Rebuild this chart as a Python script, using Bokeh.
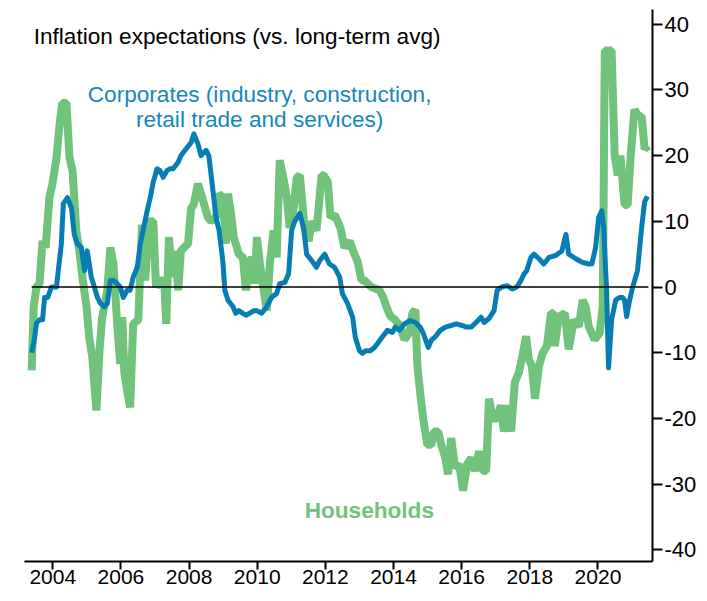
from bokeh.plotting import figure
from bokeh.models import Range1d, FixedTicker, Label, ColumnDataSource, PrintfTickFormatter
from bokeh.embed import file_html
from bokeh.resources import INLINE

# ---- data ----
hh_year = [2003.38, 2003.44, 2003.52, 2003.61, 2003.70, 2003.79, 2003.90, 2003.99, 2004.11, 2004.20,
           2004.28, 2004.40, 2004.49, 2004.58, 2004.69, 2004.78, 2004.87, 2004.99, 2005.07, 2005.16,
           2005.28, 2005.37, 2005.45, 2005.60, 2005.69, 2005.78, 2005.89, 2005.98, 2006.04, 2006.10,
           2006.18, 2006.27, 2006.36, 2006.51, 2006.62, 2006.71, 2006.83, 2006.95, 2007.03, 2007.15,
           2007.27, 2007.33, 2007.41, 2007.50, 2007.59, 2007.68, 2007.76, 2007.85, 2007.97, 2008.06,
           2008.14, 2008.26, 2008.35, 2008.44, 2008.55, 2008.64, 2008.79, 2008.88, 2008.99, 2009.08,
           2009.14, 2009.23, 2009.31, 2009.46, 2009.58, 2009.67, 2009.75, 2009.84, 2009.93, 2009.99,
           2010.08, 2010.19, 2010.28, 2010.37, 2010.48, 2010.57, 2010.66, 2010.78, 2010.87, 2010.95,
           2011.07, 2011.16, 2011.25, 2011.39, 2011.51, 2011.60, 2011.74, 2011.89, 2011.95, 2012.07,
           2012.15, 2012.27, 2012.36, 2012.44, 2012.56, 2012.71, 2012.85, 2012.94, 2013.06, 2013.15,
           2013.35, 2013.59, 2013.70, 2013.79, 2013.91, 2014.05, 2014.20, 2014.32, 2014.46, 2014.55,
           2014.64, 2014.70, 2014.78, 2014.87, 2014.99, 2015.11, 2015.19, 2015.31, 2015.40, 2015.52,
           2015.60, 2015.69, 2015.81, 2015.93, 2016.04, 2016.16, 2016.28, 2016.39, 2016.51, 2016.63,
           2016.72, 2016.80, 2016.92, 2017.04, 2017.15, 2017.24, 2017.36, 2017.45, 2017.56, 2017.68,
           2017.80, 2017.89, 2017.97, 2018.06, 2018.15, 2018.27, 2018.38, 2018.50, 2018.62, 2018.70,
           2018.73, 2018.85, 2019.03, 2019.14, 2019.29, 2019.44, 2019.55, 2019.64, 2019.73, 2019.90,
           2020.05, 2020.14, 2020.20, 2020.40, 2020.49, 2020.58, 2020.66, 2020.78, 2020.87, 2020.96,
           2021.07, 2021.19, 2021.28, 2021.37, 2021.48]
hh_val = [-12.7, -3, 0, 0.5, 7, 6, 13.6, 15.7, 19.7, 24.8,
          28, 28, 19.7, 17.7, 8.6, 5.5, 1.5, -3, -7.7, -10.7,
          -18.8, -9.7, -4.6, -0.5, 6, 3.5, -5.6, -11.7, -4.6, -13,
          -15.7, -18.3, -5.6, -5, 9.5, 1, 10, 10, 0, 1,
          1, -5.6, 7.6, 1.5, 5.5, -0.5, 5.5, 6, 6.6, 12,
          12.6, 15.7, 14.2, 12.6, 10.6, 10, 10.6, 14.2, 13.6, 6.6,
          14.2, 11.2, 7.6, 5, 4.5, -0.5, 3.5, 4.5, 0.5, 7.6,
          3.5, -0.5, -3.6, 3.5, 8.6, 4.5, 19.3, 16.2, 13.6, 9,
          12, 16.7, 17, 9, 7, 10, 8.6, 17, 17, 16,
          10.6, 11, 10, 9, 6, 7, 5, 4, 1, 1,
          0, -0.5, -1.6, -3, -4.5, -5, -6, -8, -7, -4,
          -3.5, -12, -16, -20, -24, -24, -22, -22, -24, -26,
          -28.5, -23, -27.5, -27, -31, -27, -26, -28, -25, -28,
          -28, -17, -20, -20, -18, -22, -18, -22, -14.5, -13,
          -10, -7.5, -11, -12, -17, -12, -10, -9, -4, -4,
          -9, -4.5, -4, -9.5, -5, -6, -2, -3, -6, -8,
          -7, -3, 36, 36, 20, 17, 20, 12.5, 12.5, 20,
          27, 26, 26, 21, 21.5]

corp_year = [2003.38, 2003.46, 2003.52, 2003.61, 2003.70, 2003.76, 2003.85, 2003.96, 2004.11, 2004.14,
             2004.25, 2004.31, 2004.43, 2004.55, 2004.63, 2004.72, 2004.84, 2004.93, 2005.01, 2005.13,
             2005.22, 2005.31, 2005.40, 2005.51, 2005.60, 2005.69, 2005.78, 2005.89, 2005.98, 2006.07,
             2006.18, 2006.27, 2006.36, 2006.48, 2006.57, 2006.65, 2006.77, 2006.86, 2006.95, 2007.06,
             2007.15, 2007.24, 2007.35, 2007.44, 2007.53, 2007.68, 2007.76, 2007.91, 2008.06, 2008.14,
             2008.26, 2008.35, 2008.50, 2008.58, 2008.70, 2008.79, 2008.88, 2008.99, 2009.05, 2009.14,
             2009.29, 2009.37, 2009.46, 2009.58, 2009.67, 2009.81, 2009.90, 2009.99, 2010.13, 2010.28,
             2010.43, 2010.57, 2010.66, 2010.81, 2010.92, 2011.01, 2011.10, 2011.25, 2011.36, 2011.45,
             2011.60, 2011.74, 2011.83, 2011.98, 2012.12, 2012.27, 2012.42, 2012.50, 2012.65, 2012.80,
             2012.88, 2013.00, 2013.09, 2013.18, 2013.32, 2013.44, 2013.53, 2013.67, 2013.82, 2013.97,
             2014.05, 2014.17, 2014.32, 2014.49, 2014.64, 2014.78, 2014.87, 2015.02, 2015.11, 2015.22,
             2015.37, 2015.52, 2015.66, 2015.84, 2016.04, 2016.13, 2016.28, 2016.42, 2016.57, 2016.66,
             2016.80, 2016.95, 2017.04, 2017.18, 2017.33, 2017.48, 2017.62, 2017.74, 2017.83, 2017.91,
             2018.03, 2018.12, 2018.27, 2018.41, 2018.56, 2018.76, 2018.94, 2019.06, 2019.14, 2019.35,
             2019.52, 2019.73, 2019.82, 2019.93, 2020.02, 2020.11, 2020.17, 2020.22, 2020.25, 2020.31,
             2020.40, 2020.52, 2020.63, 2020.72, 2020.78, 2020.84, 2020.93, 2021.02, 2021.16, 2021.28,
             2021.37, 2021.45]
corp_val = [-10, -8, -5.5, -5, -5, -1.6, -1.6, 0, 0, 1.5,
            6.5, 12.7, 13.6, 12, 8, 6.6, 6, 2.5, 5.5, 1.5,
            0, -1.6, -2.5, -3, -2.5, 1, 1, 0.5, 0, -1.6,
            -0.5, -0.5, 1.5, 3, 6.6, 8.6, 11.6, 13.6, 16, 18,
            17.7, 16.7, 17.7, 18, 18, 19, 20, 21, 22, 23.3,
            21.8, 20, 20.8, 20, 14.7, 10.6, 8.6, 4, -0.5, -2,
            -3, -4, -3.6, -4, -4.3, -3.9, -3.6, -3.6, -4, -3,
            -1.5, -1, 0.5, 0.7, 2, 8.6, 10, 11.2, 9, 5,
            4, 3, 4, 5, 3.5, 3, 1.5, -1, -2.5, -4.6,
            -7.7, -9.7, -10.1, -9.7, -9.7, -9.2, -8.6, -7.6, -6.6, -6.9,
            -6.1, -6.6, -5.6, -5.1, -5.4, -6.1, -7, -9.2, -8.1, -7.6,
            -6.6, -6.1, -5.9, -5.6, -5.9, -6.1, -6.1, -5.4, -4.6, -5.4,
            -4.8, -3.6, -0.5, 0, 0.2, -0.3, 0, 1, 2, 2.5,
            4.5, 5, 4.3, 3.5, 4.5, 4.8, 5.5, 8, 5, 4.3,
            3.8, 3.5, 3.5, 6, 10.6, 11.6, 9, 3, 0, -12.3,
            -5, -2, -1.6, -1.6, -2, -4.5, -2, 0, 2.5, 9,
            13, 13.8]

x_ticks = [2004, 2006, 2008, 2010, 2012, 2014, 2016, 2018, 2020]
y_ticks = [-40, -30, -20, -10, 0, 10, 20, 30, 40]

title_text = "Inflation expectations (vs. long-term avg)"
corp_text = ["Corporates (industry, construction,", "retail trade and services)"]
hh_text = "Households"

GREEN = "#71C27A"
BLUE = "#077DB3"
FONT = "Liberation Sans"

p = figure(width=699, height=593, output_backend="svg", toolbar_location=None,
           x_range=Range1d(2003.17, 2021.60), y_range=Range1d(-41.78, 42.24),
           y_axis_location="right", min_border_left=24, min_border_top=9,
           min_border_right=45, min_border_bottom=32)
p.outline_line_color = None
p.grid.visible = False
p.background_fill_color = "white"
p.border_fill_color = "white"

hh_src = ColumnDataSource(dict(x=hh_year, y=hh_val))
corp_src = ColumnDataSource(dict(x=corp_year, y=corp_val))
p.line("x", "y", source=hh_src, line_color=GREEN, line_width=8, line_join="bevel")
p.line("x", "y", source=corp_src, line_color=BLUE, line_width=5, line_join="round")
p.segment(x0=[hh_year[0]], y0=[0], x1=[hh_year[-1]], y1=[0], line_color="black", line_width=1.6)

for ax in (p.xaxis[0], p.yaxis[0]):
    ax.axis_line_width = 2
    ax.major_tick_line_width = 2
    ax.major_tick_in = 0
    ax.minor_tick_out = 0
    ax.minor_tick_in = 0
    ax.major_label_text_font = FONT
    ax.major_label_text_color = "black"
    ax.axis_line_color = "black"
    ax.major_tick_line_color = "black"

p.xaxis.major_tick_out = 8
p.yaxis.major_tick_out = 10
p.xaxis.major_label_text_font_size = "21px"
p.yaxis.major_label_text_font_size = "22px"
p.xaxis.ticker = FixedTicker(ticks=x_ticks)
p.yaxis.ticker = FixedTicker(ticks=y_ticks)
p.yaxis.formatter = PrintfTickFormatter(format="%d")
p.xaxis.major_label_standoff = 0
p.yaxis.major_label_standoff = 2

p.add_layout(Label(x=2003.44, y=38.1, text=title_text, text_font=FONT, text_font_size="22.6px",
                   text_color="black", text_align="left", text_baseline="alphabetic"))
p.add_layout(Label(x=2010.07, y=29.3, text=corp_text[0], text_font=FONT, text_font_size="22.6px",
                   text_color="#1487BE", text_align="center", text_baseline="alphabetic"))
p.add_layout(Label(x=2010.07, y=25.5, text=corp_text[1], text_font=FONT, text_font_size="22.6px",
                   text_color="#1487BE", text_align="center", text_baseline="alphabetic"))
p.add_layout(Label(x=2013.29, y=-34.0, text=hh_text, text_font=FONT, text_font_size="22.6px",
                   text_font_style="bold", text_color=GREEN, text_align="center",
                   text_baseline="alphabetic"))

open("out.html", "w").write(file_html(p, INLINE))
